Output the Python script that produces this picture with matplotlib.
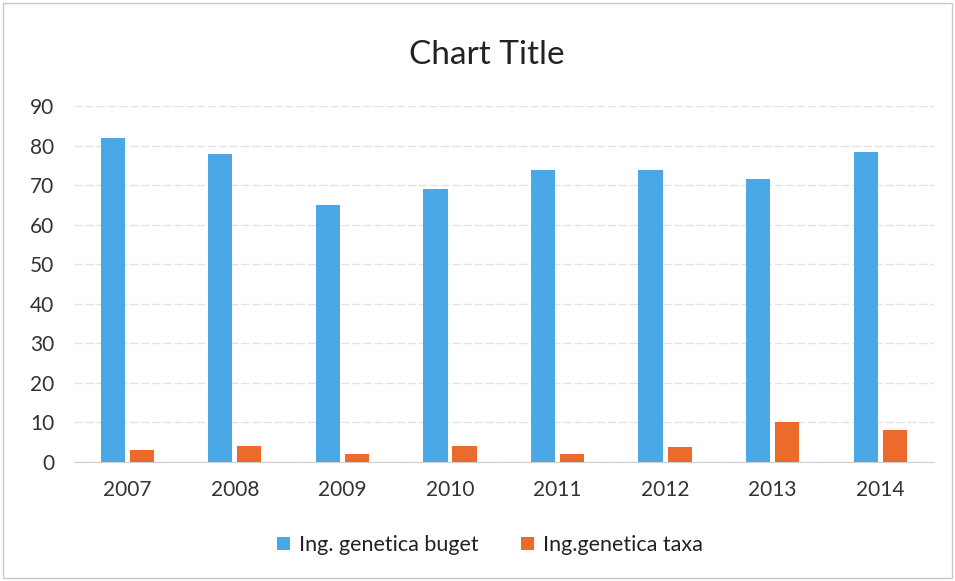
import matplotlib
matplotlib.use("Agg")
import matplotlib.pyplot as plt
import numpy as np

years = ["2007", "2008", "2009", "2010", "2011", "2012", "2013", "2014"]
buget = [82, 78, 65, 69, 74, 74, 71.5, 78.5]
taxa = [3, 4, 2, 4, 2, 3.8, 10, 8]
yticks = [0, 10, 20, 30, 40, 50, 60, 70, 80, 90]

plt.rcParams['font.family'] = ['Lato', 'DejaVu Sans']

fig = plt.figure(figsize=(9.55, 5.81), dpi=100)
ax = fig.add_axes([0.077, 0.205, 0.901, 0.612])

x = np.arange(len(years))
w = 0.225
ax.bar(x - 0.135, buget, w, color="#4AA8E6", label="Ing. genetica buget", zorder=3)
ax.bar(x + 0.135, taxa, w, color="#EC6A2C", label="Ing.genetica taxa", zorder=3)

ax.set_xlim(-0.5, len(years) - 0.5)
ax.set_ylim(0, 90)
ax.set_yticks(yticks)
ax.set_xticks(x)
ax.set_xticklabels(years)
ax.tick_params(axis='both', length=0, labelsize=15, colors="#333333")
ax.tick_params(axis='x', pad=13)
ax.tick_params(axis='y', pad=14)
ax.grid(axis='y', color="#E2E2E2", linewidth=1, linestyle=(0, (6, 2)), zorder=0)
for s in ["top", "right", "left"]:
    ax.spines[s].set_visible(False)
ax.spines["bottom"].set_color("#D0D0D0")

fig.text(0.51, 0.905, "Chart Title", ha="center", va="center", fontsize=24, color="#222222")

leg = fig.legend(loc="center", bbox_to_anchor=(0.513, 0.062), ncol=2, frameon=False,
                 fontsize=15.5, handlelength=0.6, handleheight=0.6, columnspacing=2.0,
                 handletextpad=0.4, labelcolor="#222222")

fig.patches.append(plt.Rectangle((0.003, 0.005), 0.994, 0.99, transform=fig.transFigure,
                                 fill=False, edgecolor="#C8C8C8", linewidth=1))

fig.savefig("out.png", dpi=100)
